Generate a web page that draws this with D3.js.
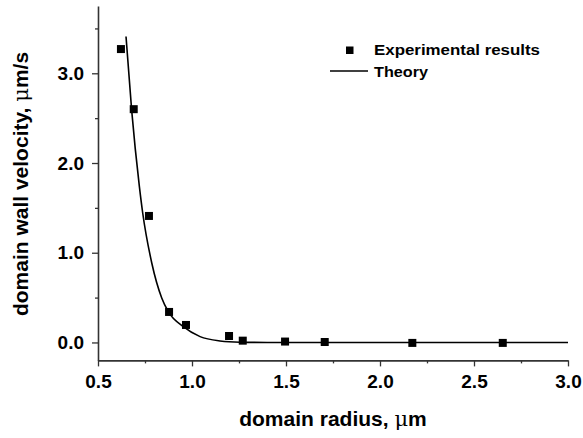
<!DOCTYPE html>
<html>
<head>
<meta charset="utf-8">
<script src="https://cdn.jsdelivr.net/npm/d3@7/dist/d3.min.js"></script>
<style>
  html, body { margin: 0; padding: 0; background: #fff; }
  svg { display: block; font-family: "Liberation Sans", Arial, sans-serif; }
</style>
</head>
<body>
<svg id="chart" width="583" height="438"></svg>
<script>
// Experimental results
const expRadius   = [0.622, 0.690, 0.771, 0.878, 0.968, 1.197, 1.270, 1.495, 1.706, 2.172, 2.653];
const expVelocity = [3.27, 2.60, 1.41, 0.34, 0.195, 0.072, 0.02, 0.01, 0.005, -0.005, -0.005];

// Theory curve
const thRadius   = [0.649, 0.679, 0.720, 0.738, 0.786, 0.839, 0.874, 0.954, 1.043, 1.149, 1.255, 1.40, 3.0];
const thVelocity = [3.41, 2.59, 1.74, 1.44, 0.886, 0.496, 0.343, 0.176, 0.065, 0.017, 0.003, 0.0, 0.0];

// Axis ticks
const xMajor = [0.5, 1.0, 1.5, 2.0, 2.5, 3.0];
const xMinor = [0.75, 1.25, 1.75, 2.25, 2.75];
const yMajor = [0.0, 1.0, 2.0, 3.0];
const yMinor = [0.5, 1.5, 2.5, 3.5];

// Titles: [text before unit, greek mu, rest of unit]
const xTitle = ["domain radius, ", "\u03bc", "m"];
const yTitle = ["domain wall velocity, ", "\u03bc", "m/s"];
const legendLabels = ["Experimental results", "Theory"];

const svg = d3.select("#chart");
const x = d3.scaleLinear().domain([0.5, 3.0]).range([98, 568]);
const y = d3.scaleLinear().domain([-0.2, 3.75]).range([360.4, 6]);

const axisColor = "#333";

// X axis
const gx = svg.append("g").attr("transform", `translate(0,${y(-0.2)})`);
gx.call(d3.axisBottom(x).tickValues(xMajor).tickSize(6).tickSizeOuter(0).tickPadding(8).tickFormat(d3.format(".1f")));
gx.append("g").call(d3.axisBottom(x).tickValues(xMinor).tickSize(3).tickFormat(""))
  .select(".domain").remove();
// Y axis
const gy = svg.append("g").attr("transform", `translate(${x(0.5)},0)`);
gy.call(d3.axisLeft(y).tickValues(yMajor).tickSize(6).tickSizeOuter(0).tickPadding(8).tickFormat(d3.format(".1f")));
gy.append("g").call(d3.axisLeft(y).tickValues(yMinor).tickSize(3).tickFormat(""))
  .select(".domain").remove();

svg.selectAll(".domain").attr("stroke", axisColor).attr("stroke-width", 1.6);
svg.selectAll(".tick line").attr("stroke", axisColor).attr("stroke-width", 1.3);
svg.selectAll(".tick text").attr("fill", "#000").style("font-size", "19px").style("font-weight", "bold")
   .style("font-family", "'Liberation Sans', Arial, sans-serif");

// Theory line
const thData = thRadius.map((r, i) => [r, thVelocity[i]]);
svg.append("path")
  .datum(thData)
  .attr("fill", "none")
  .attr("stroke", "#000")
  .attr("stroke-width", 1.6)
  .attr("d", d3.line().x(d => x(d[0])).y(d => y(d[1])).curve(d3.curveMonotoneX));

// Experimental squares
const ms = 8;
svg.append("g").selectAll("rect")
  .data(expRadius.map((r, i) => [r, expVelocity[i]]))
  .join("rect")
  .attr("x", d => x(d[0]) - ms / 2)
  .attr("y", d => y(d[1]) - ms / 2)
  .attr("width", ms).attr("height", ms)
  .attr("fill", "#000");

function titleText(sel, parts) {
  sel.append("tspan").text(parts[0]);
  sel.append("tspan").style("font-family", "'DejaVu Serif', 'Liberation Serif', serif")
     .style("font-weight", "normal").text(parts[1]);
  sel.append("tspan").text(parts[2]);
}

// Axis titles
const xt = svg.append("text")
  .attr("x", 333).attr("y", 426)
  .attr("text-anchor", "middle")
  .style("font-size", "21px").style("font-weight", "bold");
titleText(xt, xTitle);
const yt = svg.append("text")
  .attr("transform", "translate(28,184) rotate(-90)")
  .attr("text-anchor", "middle")
  .style("font-size", "21px").style("font-weight", "bold");
titleText(yt, yTitle);

// Legend
const lg = svg.append("g");
lg.append("rect").attr("x", 346).attr("y", 46.5).attr("width", 7.5).attr("height", 7.5).attr("fill", "#000");
lg.append("text").attr("x", 374).attr("y", 55).style("font-size", "15px").style("font-weight", "bold")
  .attr("textLength", 166).attr("lengthAdjust", "spacingAndGlyphs").text(legendLabels[0]);
lg.append("line").attr("x1", 330).attr("x2", 368).attr("y1", 71).attr("y2", 71).attr("stroke", "#000").attr("stroke-width", 1.6);
lg.append("text").attr("x", 374).attr("y", 76.5).style("font-size", "15px").style("font-weight", "bold")
  .attr("textLength", 54).attr("lengthAdjust", "spacingAndGlyphs").text(legendLabels[1]);
</script>
</body>
</html>
